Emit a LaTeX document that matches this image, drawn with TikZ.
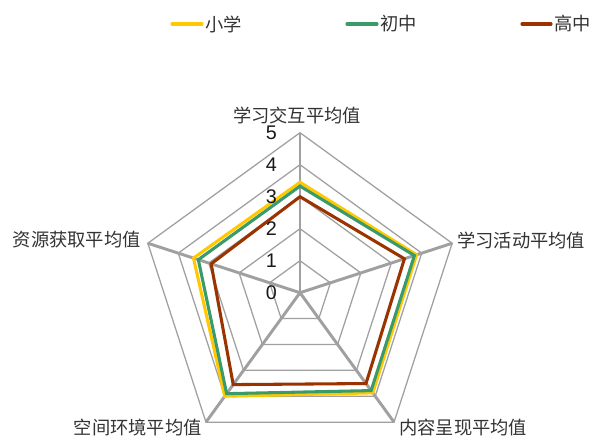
\documentclass[tikz,border=0pt]{standalone}
\usepackage{fontspec}
\setmainfont{Liberation Sans}
\newfontfamily\cjk{Noto Sans CJK SC}
\definecolor{gridgray}{HTML}{A0A0A0}
\definecolor{yel}{HTML}{FFC800}
\definecolor{grn}{HTML}{3A9A6A}
\definecolor{brn}{HTML}{9A3300}
\definecolor{txt}{HTML}{333333}
\begin{document}
\begin{tikzpicture}[x=0.75pt,y=0.75pt,
  grid/.style={draw=gridgray, line width=0.95pt, line join=miter},
  spoke/.style={draw=gridgray, line width=2.2pt},
  series/.style={line width=2.3pt, line join=miter},
  axlabel/.style={font=\cjk\fontsize{13.7}{16}\selectfont, text=txt, inner sep=0pt},
  tick/.style={font=\fontsize{14.8}{16}\selectfont, text=black!90, inner sep=0pt, anchor=east},
  legline/.style={line width=2.3pt, line cap=round}]
\fill[white] (0,0) rectangle (590,436);
\useasboundingbox (0,0) rectangle (590,436);
\coordinate (O) at (300,143.3);
\foreach \a [count=\i] in {90,18,-54,-126,162}
  \coordinate (v\i) at ([shift={(\a:160)}]O);
% grid polygons
\foreach \k in {1,...,5}
  \draw[grid, shift={(O)}] (90:{32*\k}) -- (18:{32*\k}) -- (-54:{32*\k}) -- (-126:{32*\k}) -- (162:{32*\k}) -- cycle;
% spokes
\foreach \i in {1,...,5}
  \draw[spoke] (O) -- (v\i);
% series
\draw[series, draw=yel, shift={(O)}] (90:110.4) -- (18:122.6) -- (-54:123.8) -- (-126:128) -- (162:112) -- cycle;
\draw[series, draw=grn, shift={(O)}] (90:106.6) -- (18:120.3) -- (-54:121) -- (-126:124.8) -- (162:106.9) -- cycle;
\draw[series, draw=brn, shift={(O)}] (90:96) -- (18:109.8) -- (-54:112.3) -- (-126:113.6) -- (162:93.4) -- cycle;
% ticks
\foreach \k in {0,...,5}
  \node[tick] (t\k) at (277,{143.3+32*\k}) {\k};
% axis labels
\node[axlabel] (lT) at (297,321) {学习交互平均值};
\node[axlabel, anchor=west] (lR) at (457,196) {学习活动平均值};
\node[axlabel, anchor=west] (lBR) at (399,8.5) {内容呈现平均值};
\node[axlabel, anchor=east] (lBL) at (202,8.5) {空间环境平均值};
\node[axlabel, anchor=east] (lL) at (141,196) {资源获取平均值};
% legend
\coordinate (y1) at (172,412); \coordinate (y2) at (202,412);
\coordinate (g1) at (347,412); \coordinate (g2) at (377,412);
\coordinate (b1) at (522,412); \coordinate (b2) at (551,412);
\draw[legline, draw=yel] (y1) -- (y2);
\draw[legline, draw=grn] (g1) -- (g2);
\draw[legline, draw=brn] (b1) -- (b2);
\node[axlabel, anchor=west] (ly) at ([xshift=2.5]y2) {小学};
\node[axlabel, anchor=west] (lg) at ([xshift=2.5]g2) {初中};
\node[axlabel, anchor=west] (lb) at ([xshift=2.5]b2) {高中};
\end{tikzpicture}
\end{document}
